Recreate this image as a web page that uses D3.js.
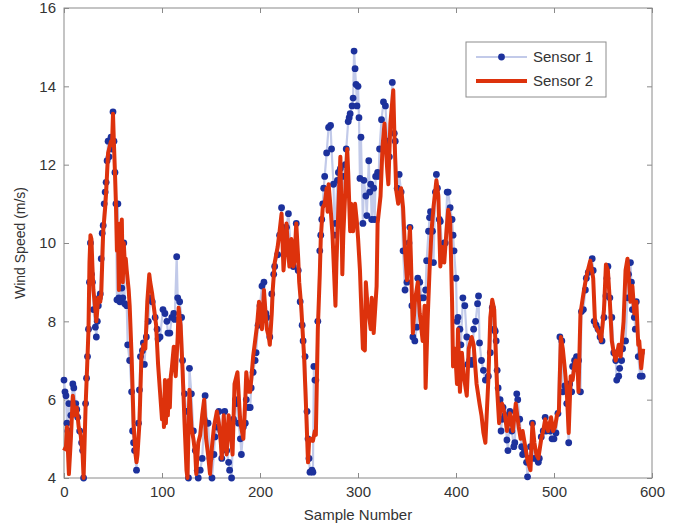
<!DOCTYPE html>
<html>
<head>
<meta charset="utf-8">
<script src="https://cdn.jsdelivr.net/npm/d3@7"></script>
<style>
  body { margin: 0; background: #fff; }
  text { font-family: "Liberation Sans", Arial, sans-serif; }
</style>
</head>
<body>
<div id="chart"></div>
<script>
// [sample number, wind speed m/s]
const sensor1 = [[0,6.5],[1,6.2],[2,6.1],[3,5.4],[4,5.2],[5,5.9],[7,5.6],[9,6.4],[10,6.3],[12,5.9],[13,5.75],[14,5.55],[16,5.2],[18,4.9],[19,4.7],[20,4.0],[22,5.9],[23,6.55],[24,7.1],[25,7.8],[26,9.0],[27,10.0],[28,9.2],[29,9.0],[30,8.3],[32,7.85],[33,7.6],[34,8.0],[35,8.4],[36,8.6],[37,8.7],[38,9.6],[39,10.25],[40,10.45],[41,11.0],[42,11.3],[43,11.55],[44,12.1],[45,12.6],[46,12.2],[47,12.6],[48,12.7],[49,12.4],[50,13.35],[51,12.6],[52,11.8],[53,11.0],[54,8.55],[55,11.0],[56,8.6],[57,8.5],[58,9.2],[59,8.85],[60,8.6],[61,10.0],[62,8.45],[64,8.4],[65,7.4],[67,7.0],[69,6.2],[70,5.2],[71,4.9],[72,4.7],[74,4.2],[76,5.4],[77,6.25],[78,7.1],[80,7.25],[81,7.45],[82,6.9],[84,7.6],[86,8.0],[88,8.6],[90,8.5],[93,8.1],[95,7.8],[96,7.55],[98,7.6],[101,8.3],[103,8.2],[105,8.0],[106,7.7],[108,7.7],[110,8.1],[112,8.2],[113,8.05],[115,9.65],[116,8.6],[118,8.5],[120,8.1],[121,7.0],[123,6.15],[125,5.7],[127,4.0],[128,6.8],[130,6.15],[132,5.2],[134,4.7],[136,4.2],[137,4.0],[139,4.2],[141,4.5],[143,5.5],[144,6.1],[146,5.4],[147,5.4],[149,4.5],[151,4.0],[153,4.6],[154,5.05],[156,5.3],[158,5.7],[160,5.2],[161,4.5],[163,5.0],[164,5.7],[166,4.7],[168,4.4],[169,4.2],[171,4.0],[173,5.5],[175,6.0],[176,5.9],[178,5.4],[180,5.0],[181,4.6],[183,5.3],[185,5.4],[186,6.0],[188,5.8],[190,5.8],[191,6.3],[193,6.7],[195,7.0],[196,7.2],[198,7.9],[200,8.4],[202,8.9],[204,9.0],[206,8.2],[207,8.1],[210,7.6],[212,8.7],[214,9.2],[215,9.4],[218,9.7],[220,10.2],[222,10.9],[223,10.4],[225,10.0],[227,10.4],[229,10.75],[231,10.0],[233,9.6],[234,9.4],[237,10.5],[239,9.3],[241,8.5],[243,7.9],[244,7.5],[246,7.1],[248,5.7],[249,5.0],[250,4.5],[251,4.15],[253,4.2],[254,4.15],[255,6.85],[256,6.5],[257,6.5],[259,8.0],[261,9.8],[262,10.2],[263,10.6],[264,11.0],[265,11.4],[266,11.7],[268,12.3],[270,12.95],[272,13.0],[273,12.4],[275,11.5],[276,10.2],[277,10.5],[279,11.6],[280,11.8],[282,11.9],[283,10.9],[285,11.7],[287,12.0],[288,12.4],[290,13.1],[291,13.2],[292,13.3],[294,13.5],[295,13.7],[296,14.9],[297,14.45],[298,14.05],[299,13.5],[300,14.0],[301,13.2],[302,11.65],[303,12.7],[305,10.5],[306,11.6],[308,11.2],[309,10.7],[311,12.1],[312,11.3],[313,11.5],[314,10.6],[316,11.4],[317,10.6],[318,11.7],[320,11.8],[321,11.7],[322,12.4],[324,13.15],[326,13.6],[328,13.5],[330,12.6],[332,12.2],[335,14.1],[337,12.8],[338,12.6],[340,11.4],[342,11.75],[344,11.3],[346,9.8],[348,8.8],[350,9.0],[352,10.0],[353,10.4],[355,8.4],[356,7.6],[358,7.5],[360,7.85],[361,9.1],[363,9.0],[365,8.6],[367,8.6],[369,8.8],[370,9.55],[372,10.3],[373,10.65],[374,10.8],[376,10.3],[377,9.5],[379,11.3],[380,11.75],[381,11.4],[383,10.6],[384,10.55],[386,9.8],[388,10.0],[389,10.0],[391,11.3],[392,11.3],[394,10.9],[396,10.6],[397,10.2],[398,9.8],[400,9.1],[401,8.0],[402,8.1],[404,7.8],[405,7.4],[407,8.6],[409,8.4],[411,7.6],[412,6.9],[414,7.0],[416,6.9],[417,7.0],[418,7.8],[420,8.0],[422,8.45],[423,8.65],[424,7.45],[426,7.0],[428,6.75],[430,6.5],[433,6.6],[435,7.2],[437,8.35],[439,7.8],[440,7.75],[441,7.5],[442,6.75],[443,6.3],[445,6.0],[446,5.2],[447,5.5],[448,5.8],[450,5.6],[452,4.97],[453,4.7],[455,5.7],[457,5.2],[459,4.8],[460,4.9],[462,6.15],[463,6.0],[465,5.5],[467,4.8],[468,4.6],[470,4.7],[472,4.4],[473,4.03],[475,4.5],[476,4.8],[478,5.4],[480,4.5],[482,4.5],[484,4.4],[485,4.5],[487,5.05],[489,5.2],[491,5.55],[492,5.2],[494,5.3],[496,5.2],[498,5.0],[500,5.0],[502,5.15],[504,5.65],[506,7.6],[508,7.5],[509,6.2],[511,6.35],[513,5.9],[515,4.9],[516,6.4],[518,6.2],[519,6.85],[521,7.0],[523,7.1],[525,7.0],[527,6.2],[528,8.25],[530,8.3],[532,8.8],[533,9.1],[535,9.25],[537,9.3],[539,9.6],[540,9.3],[541,8.0],[543,7.9],[545,7.8],[547,7.6],[549,7.5],[551,8.1],[553,8.65],[554,9.1],[555,9.4],[557,8.6],[559,8.1],[561,7.2],[563,7.0],[564,6.5],[566,6.6],[567,6.8],[569,7.0],[570,7.3],[573,7.5],[575,8.6],[576,9.2],[578,9.5],[579,9.0],[580,8.3],[582,8.1],[583,7.8],[584,8.5],[586,7.1],[588,6.6],[589,7.2],[590,6.6]];

const sensor2 = [[0,4.7],[2,4.8],[3,5.3],[5,4.1],[7,5.0],[9,6.1],[11,5.6],[13,5.8],[15,5.3],[17,5.1],[19,4.6],[20,4.0],[22,5.8],[24,7.1],[25,7.8],[26,9.5],[27,10.2],[28,10.1],[29,9.4],[30,8.8],[32,8.3],[33,8.0],[35,8.6],[37,8.5],[38,8.7],[40,10.3],[42,10.9],[43,11.3],[45,12.3],[47,12.5],[48,12.6],[49,12.5],[50,13.3],[51,12.5],[52,11.8],[53,11.0],[54,9.8],[55,10.4],[56,8.8],[57,10.5],[58,9.3],[59,10.6],[60,9.0],[61,10.0],[62,9.5],[63,9.6],[64,9.3],[66,8.8],[67,8.4],[69,7.1],[71,5.4],[73,4.6],[74,4.4],[75,4.6],[77,5.4],[79,7.1],[81,7.4],[83,7.3],[85,8.5],[87,9.2],[88,9.0],[90,8.7],[92,8.3],[94,7.9],[96,6.9],[98,6.2],[100,5.5],[101,6.0],[102,5.3],[103,6.5],[104,5.4],[105,6.3],[106,5.6],[107,6.5],[108,5.8],[109,6.6],[110,6.8],[112,7.35],[113,7.0],[114,6.6],[116,7.6],[117,8.35],[118,8.1],[119,7.9],[121,6.75],[123,5.4],[125,4.2],[126,4.0],[127,5.2],[128,6.25],[130,5.3],[132,5.0],[134,4.6],[135,4.1],[137,4.9],[139,5.1],[141,5.6],[143,6.0],[145,5.0],[147,4.6],[149,4.1],[151,4.8],[153,5.3],[156,5.7],[158,5.4],[160,4.9],[161,4.5],[163,5.6],[165,4.8],[166,4.6],[168,5.6],[169,5.4],[171,4.9],[172,4.6],[174,6.4],[177,6.7],[179,5.8],[180,5.4],[183,5.0],[185,6.0],[186,6.7],[188,6.2],[190,6.2],[193,7.1],[195,7.5],[197,7.9],[199,8.5],[201,8.0],[202,7.8],[204,8.8],[206,8.1],[207,7.8],[209,7.6],[210,7.4],[212,8.2],[213,8.8],[215,9.5],[218,9.9],[220,10.3],[222,10.75],[223,10.0],[224,9.3],[226,10.0],[227,10.5],[229,9.7],[230,9.4],[232,10.1],[234,9.4],[235,9.5],[237,10.5],[239,9.6],[240,9.0],[242,8.4],[245,7.1],[247,5.8],[249,4.4],[250,4.9],[252,5.0],[254,4.95],[256,5.2],[257,5.1],[259,7.8],[261,9.2],[262,10.1],[264,10.9],[266,11.0],[268,11.4],[269,10.8],[270,11.5],[272,10.9],[274,10.2],[275,9.6],[277,8.4],[278,9.5],[280,10.9],[282,12.2],[283,11.0],[284,9.2],[285,10.2],[287,11.3],[289,12.4],[290,11.8],[292,10.3],[293,11.0],[295,10.3],[297,11.0],[299,10.5],[300,10.15],[302,9.3],[303,8.6],[305,7.3],[307,7.26],[308,9.0],[310,8.3],[311,8.2],[313,7.8],[314,8.6],[316,7.7],[318,8.5],[319,8.9],[320,10.5],[323,11.2],[325,12.45],[327,13.05],[329,12.2],[330,11.8],[331,11.5],[333,13.05],[336,13.9],[337,12.9],[339,11.35],[341,11.0],[344,11.4],[346,10.9],[348,9.8],[350,9.05],[353,10.4],[354,9.6],[356,7.7],[358,8.5],[361,9.0],[363,8.2],[366,7.5],[368,8.4],[369,6.3],[371,8.0],[373,9.3],[375,10.3],[377,10.9],[380,11.6],[382,11.2],[384,9.4],[386,9.9],[388,9.5],[390,10.2],[392,10.85],[394,10.6],[396,8.5],[397,6.85],[399,7.3],[401,6.4],[402,7.8],[404,6.2],[406,7.2],[408,6.6],[411,6.1],[413,7.3],[416,7.6],[418,7.4],[421,6.4],[424,5.9],[426,5.6],[428,5.15],[430,4.9],[433,6.5],[435,8.1],[437,8.55],[439,8.3],[440,7.6],[442,6.25],[444,5.4],[445,5.7],[447,5.9],[450,5.6],[452,5.2],[455,5.65],[458,5.2],[461,5.9],[464,5.3],[466,5.0],[468,5.2],[470,4.9],[473,4.45],[476,4.2],[478,5.4],[480,4.9],[482,4.6],[484,4.5],[487,5.0],[489,5.2],[491,5.5],[494,5.2],[497,5.55],[499,5.2],[501,5.3],[503,5.6],[505,5.7],[507,7.6],[509,7.3],[511,6.8],[513,6.25],[515,5.15],[517,6.6],[519,6.5],[521,6.9],[522,7.0],[524,6.9],[525,6.2],[527,8.2],[530,8.7],[532,9.0],[534,9.25],[537,9.55],[540,9.1],[542,7.9],[544,7.8],[546,7.7],[548,7.5],[551,8.3],[553,9.45],[555,9.3],[557,8.5],[559,7.5],[561,7.2],[563,7.0],[566,7.4],[568,7.1],[571,8.0],[573,9.3],[575,9.6],[578,8.5],[580,8.9],[582,8.2],[584,8.5],[586,7.4],[587,7.5],[589,6.8],[591,7.3]];

const seriesNames = ["Sensor 1", "Sensor 2"];
const xTicks = [0, 100, 200, 300, 400, 500, 600];
const yTicks = [4, 6, 8, 10, 12, 14, 16];

const margin = {top: 8, right: 26, bottom: 48, left: 64};
const width = 678 - margin.left - margin.right;
const height = 526 - margin.top - margin.bottom;

const svg = d3.select("#chart").append("svg")
    .attr("width", 678)
    .attr("height", 526);

const chart = svg.append("g")
    .attr("transform", "translate(" + margin.left + "," + margin.top + ")");

const x = d3.scaleLinear().domain([0, 600]).range([0, width]);
const y = d3.scaleLinear().domain([4, 16]).range([height, 0]);

const axisColor = "#8a8a8a";
const labelColor = "#333";

// axes, ticks pointing inward on every side
function styleAxis(g) {
    g.select(".domain").remove();
    g.selectAll(".tick line").attr("stroke", axisColor);
    g.selectAll(".tick text").attr("fill", labelColor)
        .style("font-size", "15px")
        .style("font-family", "'Liberation Sans', Arial, sans-serif");
}

chart.append("g")
    .attr("transform", "translate(0," + height + ")")
    .call(d3.axisBottom(x).tickValues(xTicks).tickSize(-5).tickPadding(8))
    .call(styleAxis);

chart.append("g")
    .call(d3.axisTop(x).tickValues(xTicks).tickSize(-5).tickFormat(""))
    .call(styleAxis);

chart.append("g")
    .call(d3.axisLeft(y).tickValues(yTicks).tickSize(-5).tickPadding(8))
    .call(styleAxis);

chart.append("g")
    .attr("transform", "translate(" + width + ",0)")
    .call(d3.axisRight(y).tickValues(yTicks).tickSize(-5).tickFormat(""))
    .call(styleAxis);

chart.append("rect")
    .attr("width", width)
    .attr("height", height)
    .attr("fill", "none")
    .attr("stroke", axisColor)
    .attr("stroke-width", 1);

// axis titles
svg.append("text")
    .attr("x", margin.left + width / 2)
    .attr("y", 520)
    .attr("text-anchor", "middle")
    .attr("fill", labelColor)
    .style("font-size", "15px")
    .text("Sample Number");

svg.append("text")
    .attr("transform", "translate(25," + (margin.top + height / 2) + ") rotate(-90)")
    .attr("text-anchor", "middle")
    .attr("fill", labelColor)
    .style("font-size", "14px")
    .text("Wind Speed (m/s)");

const line = d3.line()
    .x(function(d) { return x(d[0]); })
    .y(function(d) { return y(d[1]); });

const s1Line = "#c2cae9";
const s1Dot = "#1c319c";
const s2Color = "#dd320c";

// Sensor 1: faint line with dots
chart.append("path")
    .datum(sensor1)
    .attr("fill", "none")
    .attr("stroke", s1Line)
    .attr("stroke-width", 2.2)
    .attr("d", line);

chart.selectAll(".dot")
    .data(sensor1)
    .enter().append("circle")
    .attr("class", "dot")
    .attr("cx", function(d) { return x(d[0]); })
    .attr("cy", function(d) { return y(d[1]); })
    .attr("r", 3.4)
    .attr("fill", s1Dot);

// Sensor 2: thick red line
chart.append("path")
    .datum(sensor2)
    .attr("fill", "none")
    .attr("stroke", s2Color)
    .attr("stroke-width", 4)
    .attr("stroke-linejoin", "round")
    .attr("d", line);

// legend
const legend = svg.append("g").attr("transform", "translate(466,42)");

legend.append("rect")
    .attr("width", 140)
    .attr("height", 55)
    .attr("fill", "#fff")
    .attr("stroke", "#8c8c8c");

legend.append("line")
    .attr("x1", 10).attr("x2", 61)
    .attr("y1", 15).attr("y2", 15)
    .attr("stroke", s1Line)
    .attr("stroke-width", 2.2);

legend.append("circle")
    .attr("cx", 35.5).attr("cy", 15)
    .attr("r", 3.4)
    .attr("fill", s1Dot);

legend.append("line")
    .attr("x1", 10).attr("x2", 61)
    .attr("y1", 39).attr("y2", 39)
    .attr("stroke", s2Color)
    .attr("stroke-width", 4);

legend.selectAll(".legtext")
    .data(seriesNames)
    .enter().append("text")
    .attr("class", "legtext")
    .attr("x", 67)
    .attr("y", function(d, i) { return 15 + i * 24; })
    .attr("dy", "0.35em")
    .attr("fill", labelColor)
    .style("font-size", "15px")
    .text(function(d) { return d; });
</script>
</body>
</html>
